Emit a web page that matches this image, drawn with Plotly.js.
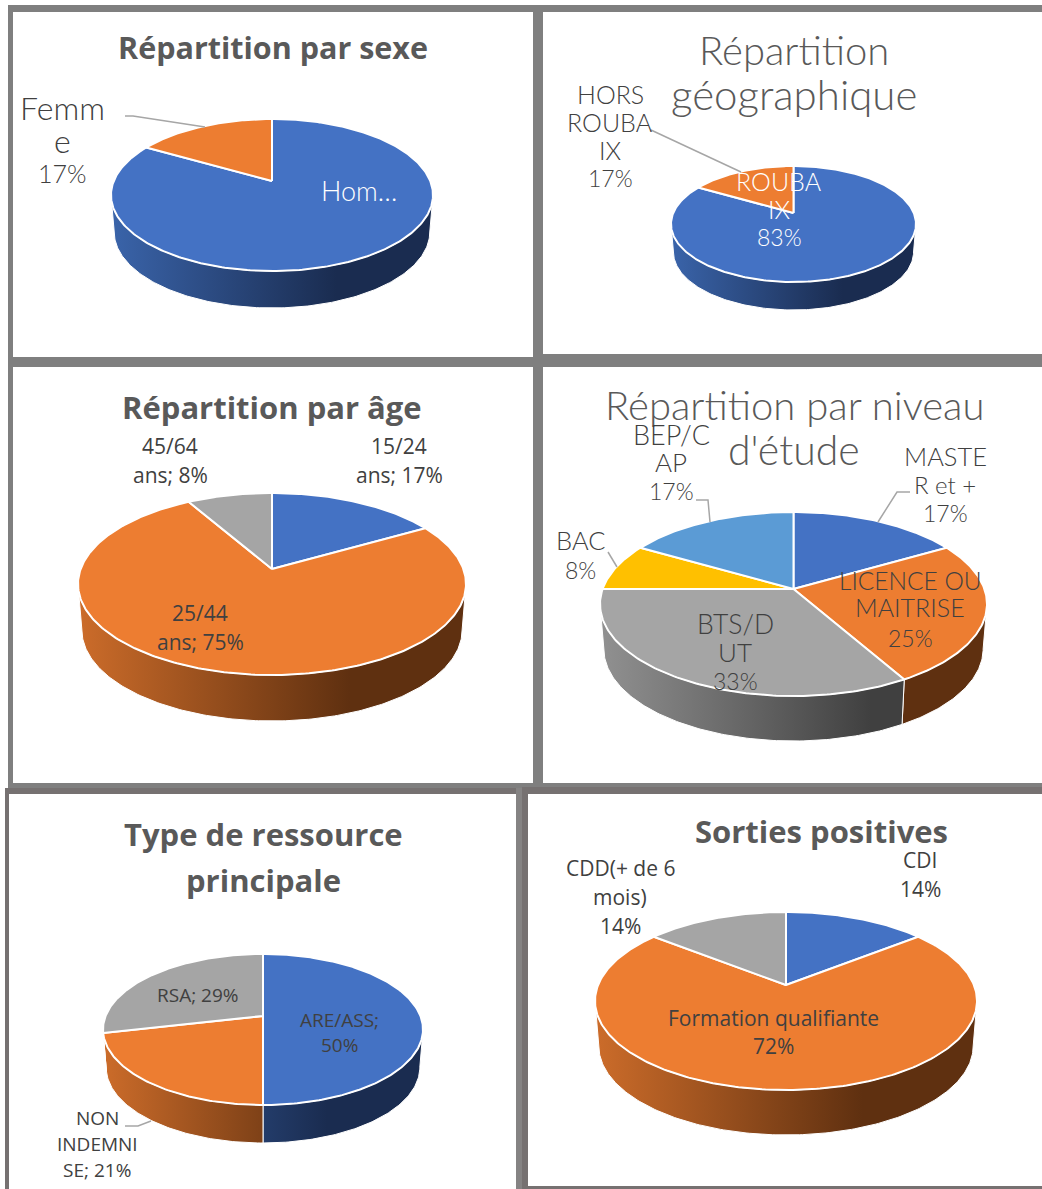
<!DOCTYPE html>
<html><head><meta charset="utf-8">
<script src="https://cdn.plot.ly/plotly-3.0.1.min.js"></script>
<style>html,body{margin:0;padding:0;background:#fff}#c{width:1042px;height:1189px}</style>
</head><body><div id="c"></div>
<script>
// ---- data ----
const sexeCategories = ['Homme', 'Femme'];
const sexeValues = [83.3, 16.7];
const geoCategories = ['ROUBAIX', 'HORS ROUBAIX'];
const geoValues = [83.3, 16.7];
const ageCategories = ['15/24 ans', '25/44 ans', '45/64 ans'];
const ageValues = [16.7, 75, 8.3];
const etudeCategories = ['MASTER et +', 'LICENCE OU MAITRISE', 'BTS/DUT', 'BAC', 'BEP/CAP'];
const etudeValues = [16.7, 25, 33.3, 8.3, 16.7];
const ressourceCategories = ['ARE/ASS', 'NON INDEMNISE', 'RSA'];
const ressourceValues = [50, 21.4, 28.6];
const sortiesCategories = ['CDI', 'Formation qualifiante', 'CDD(+ de 6 mois)'];
const sortiesValues = [14.3, 71.4, 14.3];

// ---- styles ----
const W = 1042, H = 1189;
const BLUE = '#4472C4', ORANGE = '#ED7D31', GRAY = '#A5A5A5', YELLOW = '#FFC000', LBLUE = '#5B9BD5';
const WALL = {};
WALL[BLUE] = ['#3A64AA', '#1A2C50'];
WALL[ORANGE] = ['#CC6C2A', '#5F3010'];
WALL[GRAY] = ['#919191', '#404040'];
WALL[YELLOW] = ['#C89600', '#705400'];
WALL[LBLUE] = ['#4F86B8', '#2A4F70'];

const charts = [
  {cat: sexeCategories, val: sexeValues, col: [BLUE, ORANGE], cx: 272, cy: 195, rx: 161, ry: 76, d: 37, c: 0.184},
  {cat: geoCategories, val: geoValues, col: [BLUE, ORANGE], cx: 793.5, cy: 224, rx: 122.5, ry: 58, d: 28, c: 0.19},
  {cat: ageCategories, val: ageValues, col: [BLUE, ORANGE, GRAY], cx: 272, cy: 584, rx: 194, ry: 91, d: 46, c: 0.165},
  {cat: etudeCategories, val: etudeValues, col: [BLUE, ORANGE, GRAY, YELLOW, LBLUE], cx: 793.5, cy: 604, rx: 193.5, ry: 92, d: 45, c: 0.163},
  {cat: ressourceCategories, val: ressourceValues, col: [BLUE, ORANGE, GRAY], cx: 263, cy: 1029.5, rx: 160, ry: 75.5, d: 38, c: 0.18},
  {cat: sortiesCategories, val: sortiesValues, col: [BLUE, ORANGE, GRAY], cx: 786, cy: 1001, rx: 191, ry: 89, d: 45, c: 0.18}
];

const traces = [], layout = {
  width: W, height: H, margin: {l: 0, r: 0, t: 0, b: 0}, showlegend: false,
  paper_bgcolor: '#fff', plot_bgcolor: 'rgba(0,0,0,0)', shapes: [], annotations: []
};

function rim(theta, c) {
  const x = Math.sin(theta), y = Math.cos(theta), den = 1 + c * y;
  return [x * Math.sqrt(1 - c * c) / den, (y + c) / den];
}
function arc(a, b, c) {
  const n = Math.max(2, Math.ceil((b - a) / 0.015)), out = [];
  for (let i = 0; i <= n; i++) out.push(rim(a + (b - a) * i / n, c));
  return out;
}

charts.forEach((ch, i) => {
  const id = i === 0 ? '' : String(i + 1);
  const xa = 'x' + id, ya = 'y' + id;
  const dn = ch.d / ch.ry;
  layout['xaxis' + id] = {domain: [(ch.cx - ch.rx) / W, (ch.cx + ch.rx) / W], range: [-1, 1], visible: false, fixedrange: true, anchor: ya};
  layout['yaxis' + id] = {domain: [1 - (ch.cy + ch.ry + ch.d) / H, 1 - (ch.cy - ch.ry) / H], range: [-1 - dn, 1], visible: false, fixedrange: true, anchor: xa};
  const total = ch.val.reduce((s, v) => s + v, 0);
  const frontA = Math.acos(-ch.c), frontB = 2 * Math.PI - frontA;
  let a = 0;
  const faces = [];
  ch.val.forEach((v, k) => {
    const b = a + 2 * Math.PI * v / total;
    const color = ch.col[k];
    const wa = Math.max(a, frontA), wb = Math.min(b, frontB);
    if (wb > wa) {
      const top = arc(wa, wb, ch.c);
      const bot = top.map(p => [p[0] * 0.98, p[1] - dn]).reverse();
      const pts = top.concat(bot);
      pts.push(top[0]);
      traces.push({
        type: 'scatter', mode: 'lines', xaxis: xa, yaxis: ya, name: ch.cat[k], hoverinfo: 'skip',
        x: pts.map(p => p[0]), y: pts.map(p => p[1]), fill: 'toself',
        line: {color: '#fff', width: 1},
        fillgradient: {type: 'horizontal', start: -1, stop: 1,
          colorscale: [[0, WALL[color][0]], [0.7, WALL[color][1]], [1, WALL[color][1]]]}
      });
    }
    const r = arc(a, b, ch.c);
    const pts = [[0, ch.c]].concat(r, [[0, ch.c]]);
    faces.push({
      type: 'scatter', mode: 'lines', xaxis: xa, yaxis: ya, name: ch.cat[k], hoverinfo: 'skip',
      x: pts.map(p => p[0]), y: pts.map(p => p[1]), fill: 'toself', fillcolor: color,
      line: {color: '#fff', width: 2}
    });
    a = b;
  });
  faces.forEach(f => traces.push(f));
});

// ---- panel frames ----
function bar(x0, y0, x1, y1, color) {
  layout.shapes.push({type: 'rect', xref: 'paper', yref: 'paper', x0: x0 / W, x1: x1 / W, y0: 1 - y0 / H, y1: 1 - y1 / H,
    fillcolor: color, line: {width: 0}, layer: 'below'});
}
const F1 = '#7F7F7F', F2 = '#767171';
bar(8, 5, 1042, 12, F1);
bar(8, 5, 13, 790, F1);
bar(533, 5, 543, 790, F1);
bar(8, 357, 1042, 367, F1);
bar(538, 354, 1042, 360, F1);
bar(538, 361, 1042, 367, F1);
bar(8, 783, 1042, 793, F1);
bar(5, 788, 522, 794, F2);
bar(5, 788, 9, 1189, F2);
bar(516, 788, 522, 1189, '#858383');
bar(522, 787, 1042, 794, F2);
bar(522, 787, 528, 1189, F2);
bar(522, 1186, 1042, 1189, F2);

// ---- leader lines ----
function leader(points) {
  const path = points.map((p, i) => (i ? 'L' : 'M') + (p[0] / W) + ',' + (1 - p[1] / H)).join(' ');
  layout.shapes.push({type: 'path', xref: 'paper', yref: 'paper', path: path, line: {color: '#A6A6A6', width: 1.5}});
}
leader([[125, 116], [133, 116], [205, 127]]);
leader([[651, 130], [741, 172]]);
leader([[910, 492], [897, 492], [878, 522]]);
leader([[696, 500], [708, 500], [710, 522]]);
leader([[608, 552], [617, 567]]);
leader([[125, 1126], [138, 1126], [151, 1121]]);

// ---- text ----
function text(t, x, y, size, family, color, weight) {
  layout.annotations.push({text: t, xref: 'paper', yref: 'paper', x: x / W, y: 1 - (y - 1) / H, showarrow: false,
    xanchor: 'center', yanchor: 'middle', font: {size: size, family: family, color: color, weight: weight || 400}});
}
const TB = '"Open Sans", sans-serif', TL = 'Lato, sans-serif', INK = '#404040', TT = '#595959';
text('Répartition par sexe', 273, 48, 30.5, TB, TT, 700);
text('Répartition', 794, 51, 40, TL, TT, 300);
text('géographique', 794, 95, 42, TL, TT, 300);
text('Répartition par âge', 272, 408, 31, TB, TT, 700);
text('Répartition par niveau', 794, 406, 40, TL, TT, 300);
text("d'étude", 794, 450, 41, TL, TT, 300);
text('Type de ressource', 263, 835, 31, TB, TT, 700);
text('principale', 263, 881, 31, TB, TT, 700);
text('Sorties positives', 821, 832, 31, TB, TT, 700);

[['Femm', 108, 32], ['e', 142, 32], ['17%', 174, 25]].forEach(l => text(l[0], 62, l[1], l[2], TL, INK, 300));
text('Hom…', 359, 191, 27, TL, '#fff', 300);
[['HORS', 95, 25], ['ROUBA', 123, 25], ['IX', 151, 25], ['17%', 179, 23]].forEach(l => text(l[0], 610, l[1], l[2], TL, INK, 300));
[['ROUBA', 182, 25], ['IX', 210, 25], ['83%', 238, 23]].forEach(l => text(l[0], 779, l[1], l[2], TL, '#fff', 300));

[['45/64', 447], ['ans; 8%', 476]].forEach(l => text(l[0], 170, l[1], 21, TB, INK));
[['15/24', 447], ['ans; 17%', 476]].forEach(l => text(l[0], 399, l[1], 21, TB, INK));
[['25/44', 614], ['ans; 75%', 643]].forEach(l => text(l[0], 200, l[1], 21, TB, INK));

[['BEP/C', 435, 27], ['AP', 463, 26], ['17%', 492, 23]].forEach(l => text(l[0], 671, l[1], l[2], TL, INK, 300));
[['MASTE', 457, 25.5], ['R et +', 485, 24], ['17%', 514, 23]].forEach(l => text(l[0], 945, l[1], l[2], TL, INK, 300));
[['BAC', 541, 25.5], ['8%', 571, 23]].forEach(l => text(l[0], 580, l[1], l[2], TL, INK, 300));
[['LICENCE OU', 581, 24.5], ['MAITRISE', 608, 25], ['25%', 639, 23]].forEach(l => text(l[0], 910, l[1], l[2], TL, INK, 300));
[['BTS/D', 625, 26.5], ['UT', 653, 26], ['33%', 682, 23]].forEach(l => text(l[0], 735, l[1], l[2], TL, INK, 300));

[['ARE/ASS;', 1021], ['50%', 1046]].forEach(l => text(l[0], 339, l[1], 19, TB, INK));
text('RSA; 29%', 198, 996, 19, TB, INK);
[['NON', 1119], ['INDEMNI', 1145], ['SE; 21%', 1171]].forEach(l => text(l[0], 97, l[1], 19, TB, INK));

[['CDD(+ de 6', 869], ['mois)', 898], ['14%', 927]].forEach(l => text(l[0], 620, l[1], 21, TB, INK));
[['CDI', 861], ['14%', 890]].forEach(l => text(l[0], 920, l[1], 21, TB, INK));
[['Formation qualifiante', 1019], ['72%', 1047]].forEach(l => text(l[0], 773, l[1], 21, TB, INK));

Plotly.newPlot('c', traces, layout, {staticPlot: true, displayModeBar: false});
</script></body></html>
